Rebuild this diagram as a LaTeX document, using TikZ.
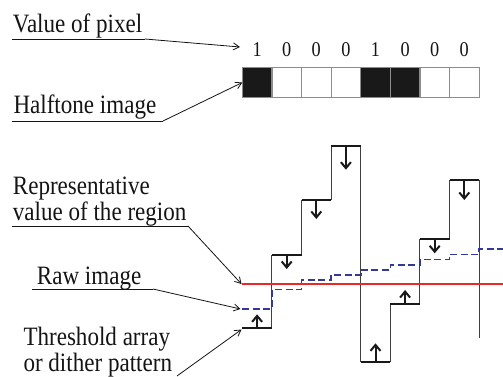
\documentclass[tikz,border=0pt]{standalone}
\usepackage{fontspec}
\usepackage{graphicx}
\setmainfont{Liberation Serif}
\usetikzlibrary{arrows.meta}
\definecolor{txt}{gray}{0.08}
\definecolor{dashblue}{rgb}{0.2,0.22,0.6}
\definecolor{redline}{rgb}{0.93,0.15,0.15}
\newcommand\narrowtext[1]{\scalebox{0.87}[1]{#1}}
\begin{document}
\begin{tikzpicture}[x=1pt,y=-1pt,
  lbl/.style={anchor=base west, inner sep=0pt, text=txt, font=\fontsize{26.5}{26.5}\selectfont},
  digit/.style={anchor=base, inner sep=0pt, text=txt, font=\fontsize{21}{21}\selectfont},
  cell/.style={draw=black!45, line width=1.2pt, minimum width=29.6pt, minimum height=29.6pt, inner sep=0pt, outer sep=0pt},
  ul/.style={draw=txt, line width=0.8pt},
  ptr/.style={draw=txt, line width=0.8pt, -{Straight Barb[length=6pt,width=7pt]}},
  riser/.style={draw=black!75, line width=1pt},
  tread/.style={draw=black!90, line width=2.2pt},
  thr/.style={draw=black!90, line width=2pt, -{Straight Barb[length=6pt,width=10pt]}},
  raw/.style={draw=dashblue, line width=1.6pt, dash pattern=on 7pt off 3.5pt},
  rep/.style={draw=redline, line width=1.5pt}
]
\useasboundingbox (0,0) rectangle (503,376);

% labels
\node[lbl] (vp) at (12.7,32.3) {\narrowtext{Value of pixel}};
\node[lbl] (ht) at (13.3,113) {\narrowtext{Halftone image}};
\node[lbl] (rep1) at (12.7,194.5) {\narrowtext{Representative}};
\node[lbl] (rep2) at (12.7,220) {\narrowtext{value of the region}};
\node[lbl] (rawl) at (36.7,284) {\narrowtext{Raw image}};
\node[lbl] (th1) at (23.3,345) {\narrowtext{Threshold array}};
\node[lbl] (th2) at (23.3,371.7) {\narrowtext{or dither pattern}};

% pixel cells and values
\foreach \i/\f in {0/black!90,1/white,2/white,3/white,4/black!90,5/black!90,6/white,7/white}{
  \node[cell, fill=\f] (c\i) at ({257.1+29.6*\i},82.5) {};
}
\foreach \i/\v in {0/1,1/0,2/0,3/0,4/1,5/0,6/0,7/0}{
  \node[digit] (d\i) at ({257.1+29.6*\i},56.7) {\narrowtext{\v}};
}

% connector coordinates
\coordinate (vpa) at (12,39);   \coordinate (vpb) at (145,39);  \coordinate (vpt) at (240,47);
\coordinate (hta) at (12,121);  \coordinate (htb) at (163,121);
\coordinate (rpa) at (12,226);  \coordinate (rpb) at (188,226); \coordinate (rpt) at (241.5,284);
\coordinate (rwa) at (32,289);  \coordinate (rwb) at (153,289); \coordinate (rwt) at (240.5,309);
\coordinate (tha) at (177,376); \coordinate (tht) at (241.5,329.5);

\draw[ul] (vpa) -- (vpb);
\draw[ptr] (vpb) -- (vpt);
\draw[ul] (hta) -- (htb);
\draw[ptr] (htb) -- (c0.west);
\draw[ul] (rpa) -- (rpb);
\draw[ptr] (rpb) -- (rpt);
\draw[ul] (rwa) -- (rwb);
\draw[ptr] (rwb) -- (rwt);
\draw[ptr] (tha) -- (tht);

% raw image (dashed blue staircase)
\draw[raw] (242.3,309) -- (271.9,309) -- (271.9,289.3) -- (301.5,289.3) -- (301.5,279.7)
  -- (331.1,279.7) -- (331.1,274.7) -- (360.7,274.7) -- (360.7,269.7) -- (390.3,269.7)
  -- (390.3,264.7) -- (419.9,264.7) -- (419.9,259.3) -- (449.5,259.3) -- (449.5,254.3)
  -- (479.1,254.3) -- (479.1,249) -- (503,249);

% threshold risers
\draw[riser] (271.9,328.3) -- (271.9,255);
\draw[riser] (301.5,255) -- (301.5,200);
\draw[riser] (331.1,200) -- (331.1,145.7);
\draw[riser] (360.7,145.7) -- (360.7,362.3);
\draw[riser] (390.3,362.3) -- (390.3,304);
\draw[riser] (419.9,304) -- (419.9,239.3);
\draw[riser] (449.5,239.3) -- (449.5,180);
\draw[riser] (479.1,180) -- (479.1,338);

% representative value (red)
\draw[rep] (242.3,284) -- (503,284);

% threshold treads
\draw[tread] (242.3,328.3) -- (271.9,328.3);
\draw[tread] (271.9,255) -- (301.5,255);
\draw[tread] (301.5,200) -- (331.1,200);
\draw[tread] (331.1,145.7) -- (360.7,145.7);
\draw[tread] (360.7,362.3) -- (390.3,362.3);
\draw[tread] (390.3,304) -- (419.9,304);
\draw[tread] (419.9,239.3) -- (449.5,239.3);
\draw[tread] (449.5,180) -- (479.1,180);

% threshold arrows
\draw[thr] (257.1,328.3) -- ++(0,-14);
\draw[thr] (286.7,255) -- ++(0,14);
\draw[thr] (316.3,200) -- ++(0,19);
\draw[thr] (345.9,145.7) -- ++(0,24);
\draw[thr] (375.5,362.3) -- ++(0,-19);
\draw[thr] (405.1,304) -- ++(0,-14);
\draw[thr] (434.7,239.3) -- ++(0,14);
\draw[thr] (464.3,180) -- ++(0,20);
\end{tikzpicture}
\end{document}
